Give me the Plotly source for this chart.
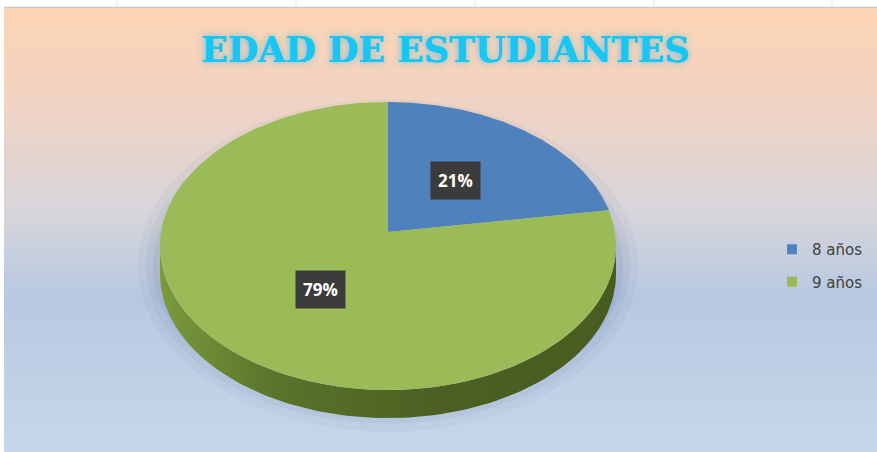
import numpy as np
import plotly.graph_objects as go

# ---- data ----
categories = ["8 años", "9 años"]
values = [21, 79]
slice_colors = ["#4f81bd", "#9bbb59"]
title_text = "EDAD DE ESTUDIANTES"

# ---- geometry / styling (pixel space) ----
W, H = 877, 452
cx, cy = 388, 246
rx, ry = 228, 144
apex_dy = -14
depth = 28
label_frac = 0.48


def ell(t_deg, dy=0.0):
    t = np.radians(t_deg)
    return cx + rx * np.sin(t), cy - ry * np.cos(t) + dy


fig = go.Figure()

# background gradient
y_edges = np.linspace(8, H, 121)
y_mid = (y_edges[:-1] + y_edges[1:]) / 2
z = y_mid.reshape(-1, 1)
bg_scale = [
    [0.0, "#fcd4b4"],
    [0.18, "#f3d3c0"],
    [0.45, "#d8d5da"],
    [0.65, "#b7c9e1"],
    [1.0, "#c7d7ea"],
]
fig.add_trace(go.Heatmap(z=z, x=[4, W], y=y_edges, colorscale=bg_scale,
                         zmin=8, zmax=H, showscale=False, zsmooth="best",
                         hoverinfo="skip"))

# soft shadow around pie
for k, a in [(22, 0.05), (14, 0.06), (7, 0.08)]:
    t = np.linspace(0, 360, 181)
    xs = cx + (rx + k) * np.sin(np.radians(t))
    ys = cy + depth * 0.7 - (ry + k) * np.cos(np.radians(t))
    fig.add_trace(go.Scatter(x=xs, y=ys, fill="toself", mode="lines",
                             line=dict(width=0), fillcolor=f"rgba(70,90,140,{a})",
                             showlegend=False, hoverinfo="skip"))

total = sum(values)
starts = np.cumsum([0] + values[:-1]) / total * 360
ends = np.cumsum(values) / total * 360

# side walls (visible lower half: 90..270 deg)
for s, e, c in zip(starts, ends, slice_colors):
    a0, a1 = max(s, 90), min(e, 270)
    if a1 <= a0:
        continue
    t = np.linspace(a0, a1, 120)
    x_top, y_top = ell(t)
    x_bot, y_bot = ell(t[::-1], depth)
    xs = np.concatenate([x_top, x_bot, x_top[:1]])
    ys = np.concatenate([y_top, y_bot, y_top[:1]])
    fig.add_trace(go.Scatter(
        x=xs, y=ys, fill="toself", mode="lines", line=dict(width=0),
        fillgradient=dict(type="horizontal",
                          colorscale=[[0, "#7a9a3c"], [0.25, "#5a742a"],
                                      [0.6, "#4b6022"], [1, "#485c20"]]),
        showlegend=False, hoverinfo="skip"))

# top faces
for s, e, c, name in zip(starts, ends, slice_colors, categories):
    t = np.linspace(s, e, 200)
    x_arc, y_arc = ell(t)
    xs = np.concatenate([[cx], x_arc, [cx]])
    ys = np.concatenate([[cy + apex_dy], y_arc, [cy + apex_dy]])
    fig.add_trace(go.Scatter(x=xs, y=ys, fill="toself", mode="lines",
                             line=dict(width=0), fillcolor=c,
                             showlegend=False, hoverinfo="skip"))

# legend entries
for c, name in zip(slice_colors, categories):
    fig.add_trace(go.Scatter(x=[None], y=[None], mode="markers", name=name,
                             marker=dict(symbol="square", size=10, color=c),
                             legendgroup=name))

# percentage labels
for s, e, v in zip(starts, ends, values):
    mid = (s + e) / 2
    lx = cx + label_frac * rx * np.sin(np.radians(mid))
    ly = cy + apex_dy - label_frac * ry * np.cos(np.radians(mid))
    pct = f"{round(v / total * 100)}%"
    fig.add_annotation(x=lx, y=ly + 3, text=f"<b>{pct}</b>", showarrow=False,
                       font=dict(family="Open Sans", size=17, color="white"),
                       bgcolor="#3b3b3b", borderpad=7)

shapes = [
    dict(type="rect", xref="x", yref="y", x0=778, x1=W, y0=233, y1=302,
         fillcolor="rgba(232,236,244,0.75)", line=dict(width=0), layer="below"),
    dict(type="line", xref="x", yref="y", x0=4, x1=W, y0=7.5, y1=7.5,
         line=dict(color="#c8c8c8", width=1.5)),
]
for gx in [117, 296, 475, 654, 832]:
    shapes.append(dict(type="line", xref="x", yref="y", x0=gx, x1=gx, y0=0, y1=7,
                       line=dict(color="#e2e2e2", width=1)))

fig.update_layout(
    width=W, height=H,
    margin=dict(l=0, r=0, t=0, b=0),
    paper_bgcolor="white", plot_bgcolor="white",
    xaxis=dict(range=[0, W], visible=False, fixedrange=True),
    yaxis=dict(range=[H, 0], visible=False, fixedrange=True),
    title=dict(text=f"<b>{title_text}</b>", x=445 / W, xanchor="center",
               y=1 - 50 / H, yanchor="middle",
               font=dict(family="DejaVu Serif", size=35, color="#18c6f4",
                         shadow="0.6px 0px 0px #18c6f4, 0px 0px 7px rgba(80,190,225,0.9)")),
    legend=dict(x=772 / W, y=1 - 233 / H, xanchor="left", yanchor="top",
                bgcolor="rgba(0,0,0,0)", font=dict(family="DejaVu Sans", size=15, color="#404040"),
                traceorder="grouped", tracegroupgap=10, itemwidth=30),
    shapes=shapes,
    showlegend=True,
)

fig.write_html("out.html", config={"displayModeBar": False},
               post_script="document.body.style.margin='0px';")
